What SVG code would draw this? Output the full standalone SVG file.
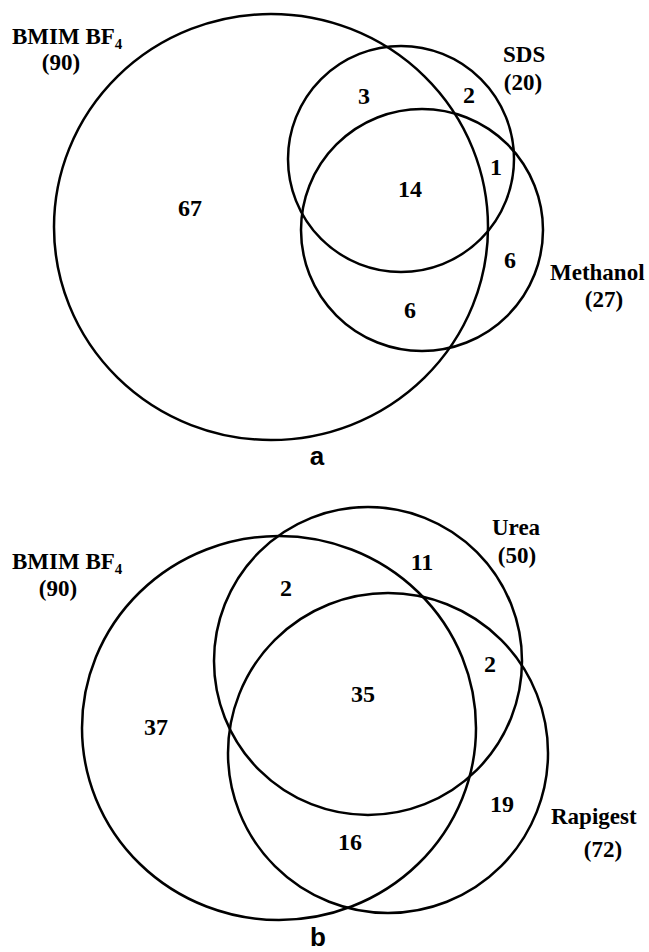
<svg xmlns="http://www.w3.org/2000/svg" width="649" height="952" viewBox="0 0 649 952">
  <style>
    .set { fill: none; stroke: #000; stroke-width: 2.5; }
    .lbl { font-family: "Liberation Serif", "Times New Roman", serif; font-weight: bold; font-size: 23px; fill: #000; }
    .num { font-family: "Liberation Serif", "Times New Roman", serif; font-weight: bold; font-size: 24px; fill: #000; text-anchor: middle; }
    .par { font-family: "Liberation Serif", "Times New Roman", serif; font-weight: bold; font-size: 23px; fill: #000; text-anchor: middle; }
    .sub { font-size: 15px; }
    .panel { font-family: "Liberation Sans", Arial, sans-serif; font-weight: bold; font-size: 26px; fill: #000; text-anchor: middle; }
  </style>
  <rect width="649" height="952" fill="#fff"/>

  <!-- Panel a -->
  <g id="a-bmim">
    <ellipse class="set" cx="271" cy="227" rx="217" ry="213"/>
    <text class="lbl" x="12" y="44">BMIM BF<tspan class="sub" dy="5">4</tspan></text>
    <text class="par" x="61" y="70">(90)</text>
  </g>
  <g id="a-sds">
    <circle class="set" cx="401" cy="159" r="113"/>
    <text class="lbl" x="503" y="62">SDS</text>
    <text class="par" x="523" y="90">(20)</text>
  </g>
  <g id="a-methanol">
    <circle class="set" cx="422" cy="230" r="121"/>
    <text class="lbl" x="550" y="280">Methanol</text>
    <text class="par" x="604" y="307">(27)</text>
  </g>
  <g id="a-counts">
    <text class="num" x="190" y="216">67</text>
    <text class="num" x="364" y="104">3</text>
    <text class="num" x="469" y="103">2</text>
    <text class="num" x="496" y="175">1</text>
    <text class="num" x="410" y="197">14</text>
    <text class="num" x="510" y="268">6</text>
    <text class="num" x="410" y="318">6</text>
  </g>
  <text class="panel" x="317" y="465">a</text>

  <!-- Panel b -->
  <g id="b-bmim">
    <ellipse class="set" cx="279" cy="728" rx="197" ry="192"/>
    <text class="lbl" x="12" y="569">BMIM BF<tspan class="sub" dy="5">4</tspan></text>
    <text class="par" x="58" y="596">(90)</text>
  </g>
  <g id="b-urea">
    <circle class="set" cx="368" cy="661" r="154"/>
    <text class="lbl" x="492" y="535">Urea</text>
    <text class="par" x="517" y="563">(50)</text>
  </g>
  <g id="b-rapigest">
    <circle class="set" cx="388" cy="753" r="160"/>
    <text class="lbl" x="551" y="824">Rapigest</text>
    <text class="par" x="603" y="857">(72)</text>
  </g>
  <g id="b-counts">
    <text class="num" x="286" y="596">2</text>
    <text class="num" x="422" y="570">11</text>
    <text class="num" x="490" y="672">2</text>
    <text class="num" x="363" y="702">35</text>
    <text class="num" x="156" y="735">37</text>
    <text class="num" x="502" y="812">19</text>
    <text class="num" x="350" y="850">16</text>
  </g>
  <text class="panel" x="318" y="946">b</text>

  <g id="connectors"></g>
</svg>
